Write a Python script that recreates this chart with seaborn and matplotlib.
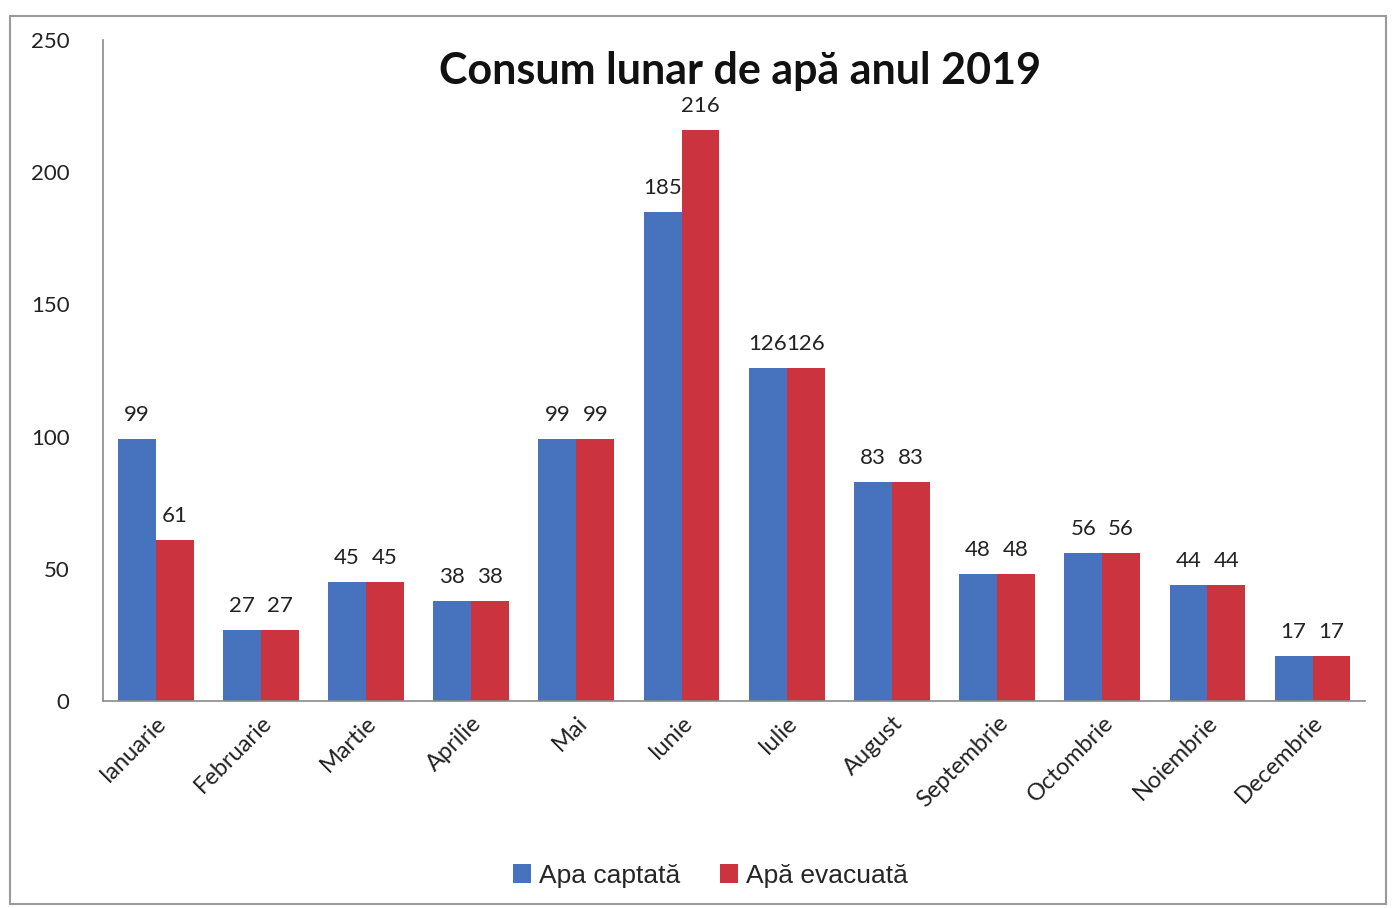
import matplotlib
matplotlib.use("Agg")
import matplotlib.pyplot as plt
import seaborn as sns
import pandas as pd
from matplotlib.patches import Rectangle

months = ["Ianuarie", "Februarie", "Martie", "Aprilie", "Mai", "Iunie",
          "Iulie", "August", "Septembrie", "Octombrie", "Noiembrie", "Decembrie"]
apa_captata = [99, 27, 45, 38, 99, 185, 126, 83, 48, 56, 44, 17]
apa_evacuata = [61, 27, 45, 38, 99, 216, 126, 83, 48, 56, 44, 17]
series_names = ["Apa captată", "Apă evacuată"]
y_ticks = [0, 50, 100, 150, 200, 250]

df = pd.DataFrame({
    "luna": months * 2,
    "valoare": apa_captata + apa_evacuata,
    "serie": [series_names[0]] * len(months) + [series_names[1]] * len(months),
})

sns.set_theme(style="white")
plt.rcParams["font.family"] = ["Lato", "DejaVu Sans"]

fig = plt.figure(figsize=(13.93, 9.08), dpi=100)
ax = fig.add_axes([0.074, 0.228, 0.906, 0.728])

palette = {series_names[0]: "#4672BE", series_names[1]: "#CB343F"}
sns.barplot(data=df, x="luna", y="valoare", hue="serie", palette=palette,
            width=0.72, saturation=1, linewidth=0, ax=ax, legend=True)

ax.set_ylim(0, 250)
ax.set_yticks(y_ticks)
ax.set_xlim(-0.5, len(months) - 0.5)
ax.set_xlabel("")
ax.set_ylabel("")
ax.tick_params(axis="y", labelsize=16, pad=24, colors="#222222", length=0)
ax.tick_params(axis="x", labelsize=17, colors="#222222", length=0, pad=8)
plt.setp(ax.get_xticklabels(), rotation=45, ha="right", rotation_mode="anchor")

for side in ["top", "right"]:
    ax.spines[side].set_visible(False)
for side in ["left", "bottom"]:
    ax.spines[side].set_color("#8a8a8a")
    ax.spines[side].set_linewidth(1.2)

for cont in ax.containers:
    ax.bar_label(cont, fmt="%d", padding=10, fontsize=16, color="#222222")

ax.set_title("Consum lunar de apă anul 2019", fontsize=31, fontweight="bold",
             color="#111111", y=0.94, va="center", x=0.505)

handles, labels = ax.get_legend_handles_labels()
ax.legend(handles, labels, loc="upper center", bbox_to_anchor=(0.51, 0.075),
          bbox_transform=fig.transFigure, ncol=2, frameon=False,
          prop={"family": "Liberation Sans", "size": 19},
          handlelength=0.7, handleheight=0.7, handletextpad=0.3, columnspacing=1.5)

fig.patches.append(Rectangle((0.007, 0.004), 0.988, 0.978, transform=fig.transFigure,
                             fill=False, edgecolor="#9a9a9a", linewidth=1.5))

fig.savefig("out.png", dpi=100, facecolor="white")
